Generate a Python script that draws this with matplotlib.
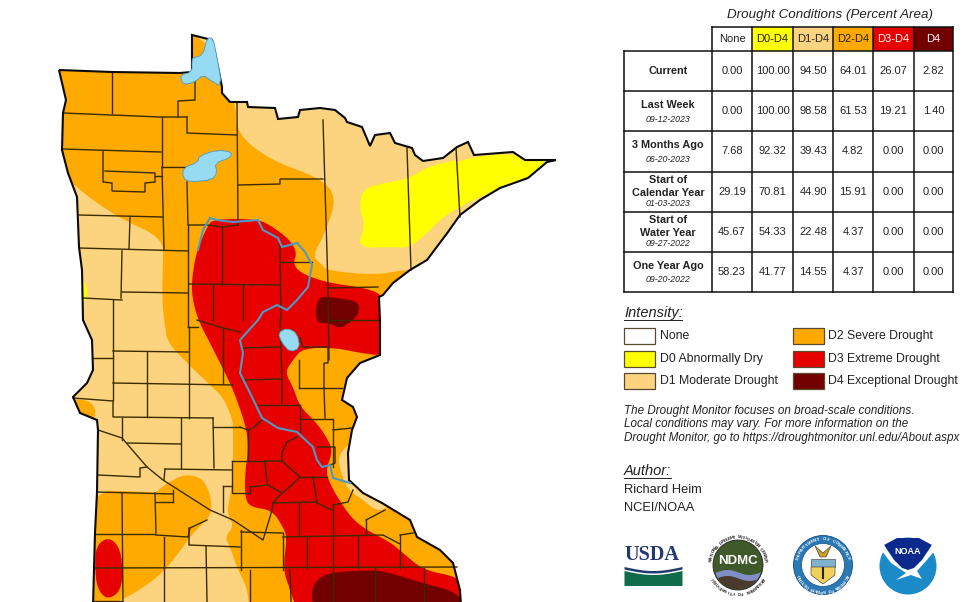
"""
Minnesota drought monitor map with the percent-area table, legend and logos.
Everything is placed in image pixels (980x602), y pointing down.
"""

import matplotlib

matplotlib.use("Agg")
import matplotlib.pyplot as plt
import numpy as np
from matplotlib.patches import Circle, Polygon, Rectangle

plt.rcParams["font.family"] = ["Liberation Sans", "DejaVu Sans"]

FIG_W = 980
FIG_H = 602

C_D0 = "#ffff00"
C_D1 = "#fcd37f"
C_D2 = "#ffaa00"
C_D3 = "#e60000"
C_D4 = "#730000"
C_WATER = "#97dbf2"
C_RIVER = "#4f9ac4"
C_COUNTY = "#3a2c00"
C_TEXT = "#222222"

# ---------- table ----------
TABLE_TITLE = "Drought Conditions (Percent Area)"
COLUMNS = ["None", "D0-D4", "D1-D4", "D2-D4", "D3-D4", "D4"]
COLUMN_COLORS = ["white", C_D0, C_D1, C_D2, C_D3, C_D4]
COLUMN_TEXT = ["#222222", "#222222", "#222222", "#222222", "white", "white"]
ROW_LABELS = [
    ["Current"],
    ["Last Week"],
    ["3 Months Ago"],
    ["Start of", "Calendar Year"],
    ["Start of", "Water Year"],
    ["One Year Ago"],
]
ROW_DATES = ["", "09-12-2023", "06-20-2023", "01-03-2023", "09-27-2022", "09-20-2022"]
VALUES = [
    ["0.00", "100.00", "94.50", "64.01", "26.07", "2.82"],
    ["0.00", "100.00", "98.58", "61.53", "19.21", "1.40"],
    ["7.68", "92.32", "39.43", "4.82", "0.00", "0.00"],
    ["29.19", "70.81", "44.90", "15.91", "0.00", "0.00"],
    ["45.67", "54.33", "22.48", "4.37", "0.00", "0.00"],
    ["58.23", "41.77", "14.55", "4.37", "0.00", "0.00"],
]
COL_EDGES = [712, 752, 793, 833, 873, 914, 953]
ROW_EDGES = [51, 91, 131, 172, 212, 252, 292]

LEGEND_LEFT = ["None", "D0 Abnormally Dry", "D1 Moderate Drought"]
LEGEND_LEFT_COLORS = ["white", C_D0, C_D1]
LEGEND_RIGHT = ["D2 Severe Drought", "D3 Extreme Drought", "D4 Exceptional Drought"]
LEGEND_RIGHT_COLORS = [C_D2, C_D3, C_D4]
NOTE_LINES = [
    "The Drought Monitor focuses on broad-scale conditions.",
    "Local conditions may vary. For more information on the",
    "Drought Monitor, go to https://droughtmonitor.unl.edu/About.aspx",
]
AUTHOR_LINES = ["Richard Heim", "NCEI/NOAA"]

# ---------- map shapes ----------
STATE = [
    (59, 70), (112, 72), (180, 73), (192, 72), (192, 35), (200, 37), (212, 40), (215, 53),
    (218, 67), (222, 87), (222, 93), (230, 102), (247, 102), (248, 107), (275, 108), (278, 119),
    (298, 117), (300, 110), (320, 108), (335, 110), (345, 118), (347, 122), (362, 127), (370, 146),
    (375, 135), (390, 133), (395, 143), (412, 148), (415, 155), (423, 161), (443, 158), (457, 147),
    (468, 142), (474, 155), (513, 152), (525, 160), (547, 160), (556, 160), (547, 162), (528, 178),
    (500, 188), (480, 200), (460, 215), (448, 232), (427, 260), (410, 270), (393, 283), (383, 295),
    (379, 297), (380, 320), (380, 355), (360, 363), (347, 378), (342, 400), (353, 407), (357, 417),
    (352, 430), (348, 453), (349, 480), (363, 493), (382, 503), (410, 520), (417, 537), (440, 550),
    (453, 563), (460, 590), (461, 606), (93, 606), (95, 533), (97, 492), (98, 430), (97, 420),
    (80, 413), (73, 397), (87, 383), (93, 370), (92, 340), (83, 320), (82, 270), (79, 247),
    (77, 197), (68, 173), (62, 150), (63, 113), (66, 100),
]
D2_MAIN = [
    (40, 50), (200, 20), (236, 100), (236, 133), (270, 160), (320, 178), (337, 197), (325, 233),
    (313, 256), (320, 263), (328, 271), (377, 275), (403, 270), (430, 270), (410, 320), (400, 480),
    (480, 560), (480, 625), (300, 625), (250, 615), (247, 587), (238, 570), (230, 547), (225, 537),
    (234, 526), (227, 513), (230, 497), (233, 477), (233, 435), (233, 420), (223, 397), (210, 385),
    (187, 363), (168, 343), (165, 327), (162, 300), (163, 263), (163, 238), (117, 217), (75, 187),
    (40, 150),
]
D2_SOUTHWEST = [
    (80, 490), (155, 492), (155, 493), (167, 483), (185, 474), (202, 478), (210, 493), (212, 510),
    (207, 520), (193, 533), (183, 547), (167, 568), (150, 583), (123, 600), (80, 615),
]
D2_WEST_TIP = [(70, 398), (90, 401), (96, 410), (94, 420), (80, 418)]
D1_SHORE = [
    (362, 438), (346, 446), (338, 457), (341, 473), (348, 490), (363, 500), (375, 510), (385, 510),
    (390, 500), (360, 480), (360, 450),
]
D1_WEDGE = [(325, 233), (313, 256), (320, 263), (332, 263), (332, 233)]
D0_REGION = [
    (363, 188), (390, 182), (410, 178), (427, 167), (455, 160), (458, 162), (473, 157), (513, 153),
    (525, 162), (552, 160), (528, 178), (500, 188), (477, 198), (460, 207), (443, 217), (423, 237),
    (408, 248), (390, 247), (357, 248), (365, 225), (359, 207),
]
D0_WEST = [(81, 280), (86, 283), (88, 296), (83, 303), (80, 303)]
D3_MAIN = [
    (207, 227), (213, 219), (258, 219), (273, 227), (290, 240), (297, 253), (293, 263), (300, 273),
    (328, 283), (367, 288), (385, 297), (392, 330), (385, 356), (360, 353), (337, 348), (303, 348),
    (293, 360), (285, 372), (293, 387), (300, 407), (317, 423), (330, 443), (332, 453), (327, 467),
    (327, 477), (337, 497), (353, 520), (370, 532), (390, 542), (403, 553), (423, 570), (458, 577),
    (470, 590), (470, 620), (300, 620), (290, 590), (283, 569), (287, 537), (283, 527), (272, 510),
    (250, 507), (245, 497), (245, 473), (248, 453), (247, 430), (237, 400), (230, 383), (220, 363),
    (210, 343), (198, 320), (192, 297), (192, 277), (197, 250),
]
D3_SOUTHWEST = [
    (96, 546), (108, 537), (119, 546), (123, 567), (121, 591), (107, 600), (97, 588), (95, 567),
]
D4_NORTH = [
    (317, 297), (330, 297), (359, 301), (359, 314), (352, 321), (340, 329), (330, 323), (315, 323),
]
D4_SOUTH = [
    (312, 587), (320, 577), (333, 572), (375, 570), (390, 573), (423, 583), (460, 593), (470, 620),
    (315, 620), (312, 600),
]
LAKE_WOODS = [
    (192, 60), (193, 58), (203, 55), (207, 38), (213, 38), (217, 57), (222, 87), (210, 80),
    (203, 75), (195, 82), (183, 85), (180, 75), (192, 72),
]
LAKE_RED = [
    (199, 156), (217, 150), (232, 152), (230, 158), (215, 163), (217, 173), (212, 180), (190, 182),
    (183, 178), (183, 168), (198, 162),
]
LAKE_MILLE = [(278, 333), (287, 328), (297, 333), (300, 348), (290, 352), (282, 343)]
RIVER = [
    (198, 250), (203, 230), (210, 218), (217, 220), (233, 222), (258, 220), (263, 230), (278, 238),
    (282, 247), (297, 243), (305, 252), (312, 265), (308, 287), (297, 300), (287, 310), (277, 305),
    (263, 312), (258, 320), (240, 340), (243, 353), (240, 373), (252, 397), (262, 418), (278, 428),
    (297, 432), (313, 447), (317, 460), (322, 467), (330, 465), (333, 478), (350, 483),
]
COUNTY_LINES = [
    [(112, 72), (112, 113)],
    [(63, 113), (160, 117), (187, 117)],
    [(178, 117), (178, 101), (195, 100), (195, 73)],
    [(187, 117), (187, 133), (237, 135)],
    [(237, 102), (238, 225)],
    [(162, 117), (162, 167)],
    [(62, 149), (161, 152)],
    [(103, 151), (103, 182), (112, 183), (112, 191), (145, 192), (145, 183), (155, 182), (155, 173), (105, 171)],
    [(155, 176), (162, 176)],
    [(162, 167), (187, 167)],
    [(162, 167), (164, 250)],
    [(187, 182), (188, 225), (207, 225), (222, 227), (238, 225)],
    [(238, 185), (280, 184), (280, 179), (323, 179)],
    [(79, 215), (163, 217)],
    [(130, 217), (129, 249)],
    [(79, 248), (188, 251)],
    [(188, 225), (188, 327)],
    [(122, 251), (121, 298)],
    [(83, 298), (122, 300)],
    [(113, 300), (113, 400)],
    [(122, 292), (188, 293)],
    [(189, 284), (280, 285)],
    [(222, 227), (222, 285)],
    [(280, 243), (281, 320)],
    [(281, 262), (312, 262)],
    [(213, 285), (213, 320)],
    [(243, 285), (243, 320)],
    [(323, 120), (328, 287), (329, 360)],
    [(407, 148), (411, 270)],
    [(456, 148), (460, 217)],
    [(328, 288), (378, 287)],
    [(329, 320), (379, 320)],
    [(113, 351), (188, 352)],
    [(147, 352), (147, 417)],
    [(113, 383), (233, 385)],
    [(93, 358), (113, 358)],
    [(73, 398), (113, 401)],
    [(113, 401), (113, 417), (213, 418)],
    [(189, 327), (189, 418)],
    [(213, 418), (214, 468)],
    [(213, 427), (240, 427)],
    [(223, 328), (223, 383)],
    [(122, 418), (122, 440)],
    [(181, 418), (181, 468)],
    [(127, 443), (181, 444)],
    [(98, 430), (122, 438), (147, 467), (163, 480), (210, 510), (233, 520), (263, 540), (270, 517), (272, 510)],
    [(98, 475), (140, 477), (140, 468), (147, 467)],
    [(165, 469), (232, 470)],
    [(165, 469), (164, 480)],
    [(232, 461), (232, 493), (250, 493)],
    [(232, 461), (265, 461)],
    [(223, 486), (232, 486)],
    [(223, 486), (223, 512)],
    [(97, 492), (173, 494)],
    [(155, 493), (156, 533)],
    [(122, 493), (123, 602)],
    [(156, 502), (173, 502)],
    [(173, 490), (173, 502)],
    [(95, 534), (155, 534)],
    [(156, 535), (188, 537), (190, 528), (207, 520)],
    [(189, 528), (189, 545), (240, 547)],
    [(164, 537), (164, 602)],
    [(206, 546), (207, 602)],
    [(241, 530), (241, 570)],
    [(241, 532), (283, 533)],
    [(283, 533), (283, 570)],
    [(283, 537), (383, 535), (400, 544)],
    [(95, 568), (457, 567)],
    [(250, 570), (250, 602)],
    [(290, 570), (291, 602)],
    [(307, 537), (307, 568)],
    [(333, 505), (333, 602)],
    [(358, 535), (358, 568)],
    [(375, 568), (375, 602)],
    [(400, 535), (400, 568)],
    [(424, 568), (424, 602)],
    [(366, 520), (366, 535)],
    [(366, 520), (385, 510)],
    [(400, 535), (413, 533)],
    [(299, 503), (299, 535)],
    [(273, 503), (315, 502), (332, 510)],
    [(333, 505), (348, 502), (353, 490)],
    [(313, 477), (317, 502)],
    [(282, 493), (273, 503), (272, 510)],
    [(250, 487), (268, 485), (282, 493)],
    [(250, 487), (250, 493)],
    [(265, 461), (267, 483)],
    [(282, 461), (282, 453), (287, 442), (297, 437)],
    [(265, 461), (282, 461), (300, 477), (292, 485), (282, 493)],
    [(300, 477), (313, 477), (327, 477)],
    [(318, 447), (335, 447), (335, 463), (330, 465)],
    [(333, 430), (352, 428)],
    [(333, 420), (333, 467)],
    [(300, 419), (333, 419)],
    [(300, 405), (300, 432)],
    [(299, 388), (342, 388)],
    [(258, 405), (300, 405)],
    [(324, 388), (325, 418)],
    [(242, 380), (282, 379), (282, 403)],
    [(282, 379), (280, 320)],
    [(242, 348), (280, 347)],
    [(299, 360), (299, 388)],
    [(300, 338), (303, 347), (328, 347), (328, 363), (324, 363), (324, 388)],
    [(248, 430), (248, 460)],
    [(262, 420), (253, 428), (248, 430), (240, 427)],
    [(197, 320), (223, 328), (240, 332)],
    [(188, 327), (198, 327)],
    [(93, 601), (122, 601)],
]


def smooth(points, passes=2):
    """Chaikin corner cutting so that the drought bands look hand drawn."""
    pts = np.asarray(points, dtype=float)
    for _ in range(passes):
        nxt = np.roll(pts, -1, axis=0)
        pts = np.column_stack([0.75 * pts + 0.25 * nxt, 0.25 * pts + 0.75 * nxt]).reshape(-1, 2)
    return pts


def draw_map(ax):
    state_xy = np.asarray(STATE, dtype=float)
    base = Polygon(state_xy, closed=True, facecolor=C_D1, edgecolor="none", zorder=1)
    ax.add_patch(base)

    layers = [
        (D2_MAIN, C_D2), (D2_SOUTHWEST, C_D2), (D2_WEST_TIP, C_D2),
        (D1_SHORE, C_D1), (D1_WEDGE, C_D1),
        (D0_REGION, C_D0), (D0_WEST, C_D0),
        (D3_MAIN, C_D3), (D3_SOUTHWEST, C_D3),
        (D4_NORTH, C_D4), (D4_SOUTH, C_D4),
    ]
    for i, (shape, color) in enumerate(layers):
        patch = Polygon(smooth(shape), closed=True, facecolor=color, edgecolor="none", zorder=2 + i * 0.01)
        ax.add_patch(patch)
        patch.set_clip_path(base)

    for line in COUNTY_LINES:
        xy = np.asarray(line)
        ax.plot(xy[:, 0], xy[:, 1], color=C_COUNTY, lw=1.0, solid_joinstyle="miter", zorder=3)

    ax.add_patch(Polygon(state_xy, closed=True, facecolor="none", edgecolor="#0a0a0a", lw=1.5, zorder=4))

    for lake in (LAKE_WOODS, LAKE_RED, LAKE_MILLE):
        ax.add_patch(Polygon(smooth(lake, 1), closed=True, facecolor=C_WATER, edgecolor=C_RIVER, lw=0.6, zorder=5))
    river = np.asarray(RIVER)
    ax.plot(river[:, 0], river[:, 1], color=C_RIVER, lw=1.5, zorder=5)


def draw_table(ax):
    ax.text(830, 15, TABLE_TITLE, ha="center", va="center", style="italic", fontsize=9.6, color=C_TEXT)

    for i, name in enumerate(COLUMNS):
        x0, x1 = COL_EDGES[i], COL_EDGES[i + 1]
        ax.add_patch(Rectangle((x0, 27), x1 - x0, 24, facecolor=COLUMN_COLORS[i], edgecolor="none"))
        ax.text((x0 + x1) / 2, 39.5, name, ha="center", va="center", fontsize=8, color=COLUMN_TEXT[i])

    for r, row in enumerate(VALUES):
        y = (ROW_EDGES[r] + ROW_EDGES[r + 1]) / 2
        for c, val in enumerate(row):
            x = (COL_EDGES[c] + COL_EDGES[c + 1]) / 2
            ax.text(x, y, val, ha="center", va="center", fontsize=8, color=C_TEXT)

        labels = ROW_LABELS[r]
        if len(labels) == 1 and not ROW_DATES[r]:
            ax.text(668, y, labels[0], ha="center", va="center", fontsize=7.8, weight="bold", color=C_TEXT)
        elif len(labels) == 1:
            ax.text(668, y - 6, labels[0], ha="center", va="center", fontsize=7.8, weight="bold", color=C_TEXT)
            ax.text(668, y + 8, ROW_DATES[r], ha="center", va="center", fontsize=6.3, style="italic", color=C_TEXT)
        else:
            ax.text(668, y - 12, labels[0], ha="center", va="center", fontsize=7.8, weight="bold", color=C_TEXT)
            ax.text(668, y + 1, labels[1], ha="center", va="center", fontsize=7.8, weight="bold", color=C_TEXT)
            ax.text(668, y + 12, ROW_DATES[r], ha="center", va="center", fontsize=6.3, style="italic", color=C_TEXT)

    line = dict(color="#111111", lw=1.1, solid_capstyle="projecting")
    for x in COL_EDGES:
        ax.plot([x, x], [27, 292], **line)
    ax.plot([624, 624], [51, 292], **line)
    ax.plot([712, 953], [27, 27], **line)
    for y in ROW_EDGES:
        ax.plot([624, 953], [y, y], **line)


def draw_legend(ax):
    ax.text(624, 313, "Intensity:", ha="left", va="center", style="italic", fontsize=10.5, color=C_TEXT)
    ax.plot([624, 682], [320, 320], color=C_TEXT, lw=0.7)

    row_y = [336, 359, 381]
    for x_box, x_text, names, colors in (
        (624, 660, LEGEND_LEFT, LEGEND_LEFT_COLORS),
        (793, 828, LEGEND_RIGHT, LEGEND_RIGHT_COLORS),
    ):
        for y, name, color in zip(row_y, names, colors):
            ax.add_patch(Rectangle((x_box, y - 8), 31, 15.5, facecolor=color, edgecolor="#5a4a30", lw=0.9))
            ax.text(x_text, y, name, ha="left", va="center", fontsize=8.8, color=C_TEXT)

    for y, note in zip([411, 424, 438], NOTE_LINES):
        ax.text(624, y, note, ha="left", va="center", style="italic", fontsize=8.35, color=C_TEXT)

    ax.text(624, 471, "Author:", ha="left", va="center", style="italic", fontsize=10.5, color=C_TEXT)
    ax.plot([624, 671], [478, 478], color=C_TEXT, lw=0.7)
    for y, name in zip([490, 508], AUTHOR_LINES):
        ax.text(624, y, name, ha="left", va="center", fontsize=9.3, color=C_TEXT)


def ring_text(ax, cx, cy, radius, text, start_deg, end_deg, **kw):
    """Place letters one by one along a circle; angles in degrees clockwise from the top."""
    for ch, ang in zip(text, np.linspace(start_deg, end_deg, len(text))):
        rad = np.deg2rad(ang)
        x = cx + radius * np.sin(rad)
        y = cy - radius * np.cos(rad)
        ax.text(x, y, ch, rotation=-ang, rotation_mode="anchor", ha="center", va="center", **kw)


def draw_logos(ax):
    # USDA
    ax.text(624, 555, "USDA", ha="left", va="center", family="Liberation Serif", weight="bold", fontsize=14.6, color="#23386f")
    xs = np.linspace(624, 682, 30)
    upper = 567 + 4 * np.sin((xs - 624) / 58 * np.pi)
    ax.fill_between(xs, upper - 0.5, upper + 2, color="#1f3a6e", lw=0)
    ax.fill_between(xs, upper + 3.5, 585.5, color="#0f6b4a", lw=0)

    # NDMC
    cx, cy = 738, 565
    ax.add_patch(Circle((cx, cy), 25, facecolor="#40592b", edgecolor="#222222", lw=0.6))
    wave_x = np.linspace(cx - 23, cx + 23, 30)
    wave_top = cy + 7 + 2.5 * np.sin((wave_x - cx) / 7)
    clip = Circle((cx, cy), 24, transform=ax.transData)
    blue = ax.fill_between(wave_x, wave_top, wave_top + 7, color="#7f8fc6", lw=0)
    brown = ax.fill_between(wave_x, wave_top + 6, cy + 26, color="#4a3a2c", lw=0)
    blue.set_clip_path(clip)
    brown.set_clip_path(clip)
    ax.text(cx, cy - 4, "NDMC", ha="center", va="center", color="white", weight="bold", fontsize=9.5)
    ring_text(ax, cx, cy, 27.5, "NATIONAL DROUGHT MITIGATION CENTER", -80, 80, fontsize=3.2, color="#222222", weight="bold")
    ring_text(ax, cx, cy, 27.5, "UNIVERSITY OF NEBRASKA", 240, 120, fontsize=3.2, color="#222222", weight="bold")

    # Department of Commerce
    cx = 823
    ax.add_patch(Circle((cx, cy), 29.5, facecolor="#2a78b4", edgecolor="#174f80", lw=0.6))
    ax.add_patch(Circle((cx, cy), 21.5, facecolor="white", edgecolor="#174f80", lw=0.5))
    ring_text(ax, cx, cy, 25.5, "DEPARTMENT OF COMMERCE", -75, 75, fontsize=3.2, color="white", weight="bold")
    ring_text(ax, cx, cy, 25.5, "UNITED STATES OF AMERICA", 245, 115, fontsize=3.2, color="white", weight="bold")
    ax.add_patch(Rectangle((cx - 12, cy - 6), 24, 8, facecolor="#7fb2cc", edgecolor="#333333", lw=0.4))
    ax.add_patch(Polygon([(cx - 12, cy + 2), (cx + 12, cy + 2), (cx + 12, cy + 10), (cx, cy + 19), (cx - 12, cy + 10)],
                         closed=True, facecolor="#f2cf5b", edgecolor="#333333", lw=0.4))
    ax.plot([cx, cx], [cy + 3, cy + 13], color="#222222", lw=1.5)
    ax.add_patch(Polygon([(cx - 8, cy - 19), (cx, cy - 12), (cx + 8, cy - 19), (cx + 3, cy - 8), (cx - 3, cy - 8)],
                         closed=True, facecolor="#c9a227", edgecolor="#333333", lw=0.4))

    # NOAA
    cx = 908
    ax.add_patch(Circle((cx, cy + 1), 28.5, facecolor="#1a8ac8", edgecolor="none"))
    top = Polygon([(cx - 24, cy - 20), (cx - 11, cy - 27), (cx + 11, cy - 27), (cx + 24, cy - 20),
                   (cx + 14, cy - 5), (cx + 6, cy + 3), (cx, cy + 5), (cx - 6, cy + 3), (cx - 14, cy - 5)],
                  closed=True, facecolor="#0b2a8c", edgecolor="none", zorder=3)
    ax.add_patch(top)
    bird = Polygon([(cx - 29, cy - 18), (cx - 17, cy - 2), (cx - 5, cy + 6), (cx - 2, cy + 8), (cx - 12, cy + 15),
                    (cx + 3, cy + 10), (cx + 14, cy + 14), (cx + 9, cy + 6), (cx + 18, cy - 4), (cx + 30, cy - 18),
                    (cx + 24, cy - 20), (cx + 14, cy - 5), (cx + 6, cy + 3), (cx, cy + 5), (cx - 6, cy + 3),
                    (cx - 14, cy - 5), (cx - 24, cy - 20)],
                   closed=True, facecolor="white", edgecolor="none", zorder=4)
    ax.add_patch(bird)
    ax.text(cx, cy - 14, "NOAA", ha="center", va="center", color="white", weight="bold", fontsize=6.5, zorder=5)


def main():
    fig = plt.figure(figsize=(FIG_W / 100, FIG_H / 100), dpi=100)
    ax = fig.add_axes([0, 0, 1, 1])
    ax.set_xlim(0, FIG_W)
    ax.set_ylim(FIG_H, 0)
    ax.axis("off")

    draw_map(ax)
    draw_table(ax)
    draw_legend(ax)
    draw_logos(ax)

    fig.savefig("out.png", dpi=100, facecolor="white")
    plt.close(fig)


if __name__ == "__main__":
    main()
